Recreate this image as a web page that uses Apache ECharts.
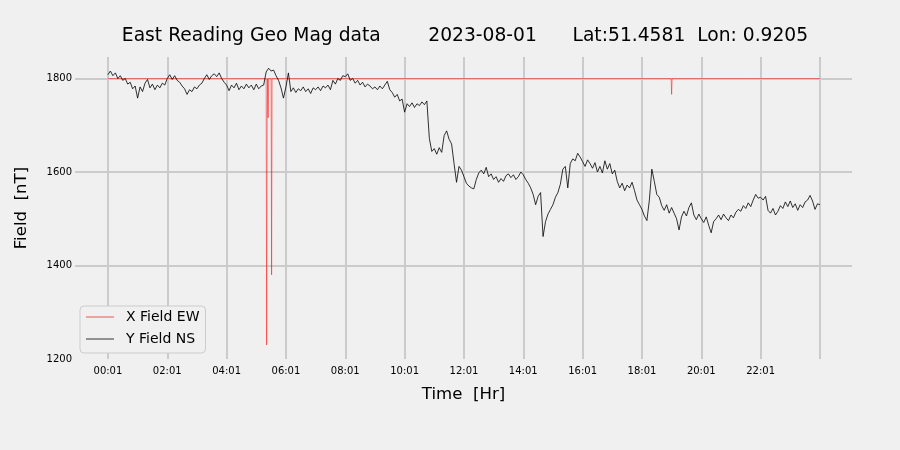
<!DOCTYPE html>
<html>
<head>
<meta charset="utf-8">
<script src="https://cdn.jsdelivr.net/npm/echarts@6/dist/echarts.min.js"></script>
<style>
html,body{margin:0;padding:0;background:#f0f0f0;}
#chart{width:900px;height:450px;}
</style>
</head>
<body>
<div id="chart"></div>
<script>
// ---- data ----
const titleText = 'East Reading Geo Mag data        2023-08-01      Lat:51.4581  Lon: 0.9205';
const seriesNames = ['X Field EW', 'Y Field NS'];

// X axis ticks (hours after 00:01)
const tickHours = [0, 2, 4, 6, 8, 10, 12, 14, 16, 18, 20, 22];
const tickLabels = ['00:01', '02:01', '04:01', '06:01', '08:01', '10:01', '12:01', '14:01', '16:01', '18:01', '20:01', '22:01'];
const gridHours = [0, 2, 4, 6, 8, 10, 12, 14, 16, 18, 20, 22, 24];

// Y axis ticks
const yTickValues = [1200, 1400, 1600, 1800];
const yGridValues = [1400, 1600, 1800];

// X Field EW (mostly flat with a few drop-outs)
const xFieldHours = [0, 5.333, 5.35, 5.367, 5.383, 5.40, 5.417, 5.50, 5.517, 5.533, 18.983, 19.0, 19.017, 21.633, 21.65, 21.667, 24];
const xFieldValues = [1800, 1800, 1230, 1716, 1800, 1716, 1800, 1800, 1380, 1800, 1800, 1766, 1800, 1800, 1796, 1800, 1800];

// Y Field NS, one reading every 5 minutes from 00:01
const nsStepMinutes = 5;
const nsValues = [
  1808,1816,1806,1812,1800,1806,1796,1800,1788,1792,1778,1784,
  1758,1782,1772,1790,1798,1780,1788,1776,1786,1780,1790,1786,
  1800,1808,1798,1806,1796,1792,1784,1778,1766,1776,1772,1782,
  1778,1786,1790,1800,1808,1798,1806,1810,1804,1812,1800,1792,
  1786,1774,1786,1780,1790,1776,1784,1778,1788,1780,1786,1776,
  1788,1778,1784,1786,1814,1822,1816,1818,1806,1796,1780,1758,
  1782,1812,1772,1780,1770,1778,1774,1782,1772,1778,1768,1780,
  1776,1782,1774,1784,1780,1786,1776,1796,1788,1800,1796,1806,
  1804,1810,1796,1800,1790,1796,1786,1792,1782,1788,1784,1778,
  1782,1776,1784,1778,1786,1794,1776,1770,1760,1766,1752,1756,
  1728,1746,1740,1748,1738,1746,1742,1750,1744,1752,1672,1644,
  1650,1638,1652,1642,1678,1688,1670,1660,1618,1578,1612,1604,
  1590,1576,1570,1566,1564,1584,1598,1604,1596,1610,1590,1596,
  1584,1590,1578,1586,1580,1592,1596,1588,1594,1584,1590,1600,
  1594,1584,1576,1566,1552,1530,1548,1556,1462,1494,1510,1520,
  1530,1546,1556,1574,1606,1612,1566,1618,1628,1624,1640,1632,
  1622,1612,1626,1618,1608,1620,1600,1612,1598,1624,1606,1618,
  1596,1604,1580,1566,1576,1560,1572,1566,1578,1560,1540,1530,
  1520,1506,1496,1540,1606,1580,1552,1546,1528,1518,1530,1512,
  1524,1512,1500,1476,1504,1516,1506,1524,1534,1508,1498,1510,
  1500,1492,1504,1486,1470,1494,1500,1508,1498,1510,1502,1496,
  1508,1502,1514,1520,1516,1528,1522,1534,1526,1540,1552,1544,
  1546,1540,1548,1518,1512,1522,1508,1516,1528,1522,1536,1526,
  1538,1524,1532,1518,1530,1524,1536,1540,1550,1538,1520,1532,
  1530
];

// ---- chart ----
const FONT = 'DejaVu Sans';
const xData = xFieldHours.map((h, i) => [h, xFieldValues[i]]);
const nsData = nsValues.map((v, i) => [i * nsStepMinutes / 60, v]);

const chart = echarts.init(document.getElementById('chart'), null, {renderer: 'canvas'});
chart.setOption({
  animation: false,
  backgroundColor: '#f0f0f0',
  textStyle: {fontFamily: FONT},
  graphic: [{
    type: 'text', x: 465, y: 36,
    style: {text: titleText, fill: '#000', font: '18.7px "DejaVu Sans"', textAlign: 'center', textVerticalAlign: 'middle'}
  }],
  grid: {left: 75, right: 48, top: 57, bottom: 91, containLabel: false},
  legend: {
    data: [
      {name: seriesNames[0], icon: 'rect', itemStyle: {color: 'rgba(235,60,60,0.85)'}},
      {name: seriesNames[1], icon: 'rect', itemStyle: {color: '#333333'}}
    ],
    orient: 'vertical',
    left: 80, top: 306,
    padding: [4, 6, 7, 6],
    itemWidth: 28, itemHeight: 1, itemGap: 8,
    backgroundColor: '#f0f0f0',
    borderColor: '#cccccc', borderWidth: 1, borderRadius: 4,
    textStyle: {fontSize: 14, lineHeight: 14, color: '#000', fontFamily: FONT, padding: [0, 0, 0, 7]}
  },
  xAxis: {
    type: 'value', min: -1.11, max: 25.08,
    name: 'Time  [Hr]', nameLocation: 'middle', nameGap: 27,
    nameTextStyle: {fontSize: 16.6, color: '#000', fontFamily: FONT},
    axisLine: {show: false},
    axisTick: {show: false, customValues: gridHours},
    axisLabel: {
      customValues: tickHours, fontSize: 10, color: '#000', margin: 7, fontFamily: FONT,
      formatter: v => { const i = tickHours.indexOf(v); return i >= 0 ? tickLabels[i] : ''; }
    },
    splitLine: {show: true, lineStyle: {color: '#cbcbcb', width: 2}}
  },
  yAxis: {
    type: 'value', min: 1200, max: 1846,
    name: 'Field  [nT]', nameLocation: 'middle', nameRotate: 90, nameGap: 45,
    nameTextStyle: {fontSize: 16.6, color: '#000', fontFamily: FONT},
    axisLine: {show: false},
    axisTick: {show: false, customValues: yGridValues},
    axisLabel: {customValues: yTickValues, fontSize: 10, color: '#000', margin: 3, fontFamily: FONT,
      formatter: v => String(v)},
    splitLine: {show: true, lineStyle: {color: '#cbcbcb', width: 2}}
  },
  series: [
    {
      name: seriesNames[0], type: 'line', data: xData, symbol: 'none',
      itemStyle: {color: '#ff0000'},
      lineStyle: {color: '#ff0000', width: 0.6, opacity: 0.8}
    },
    {
      name: seriesNames[1], type: 'line', data: nsData, symbol: 'none',
      itemStyle: {color: '#000000'},
      lineStyle: {color: '#000000', width: 0.8}
    }
  ]
});
</script>
</body>
</html>
